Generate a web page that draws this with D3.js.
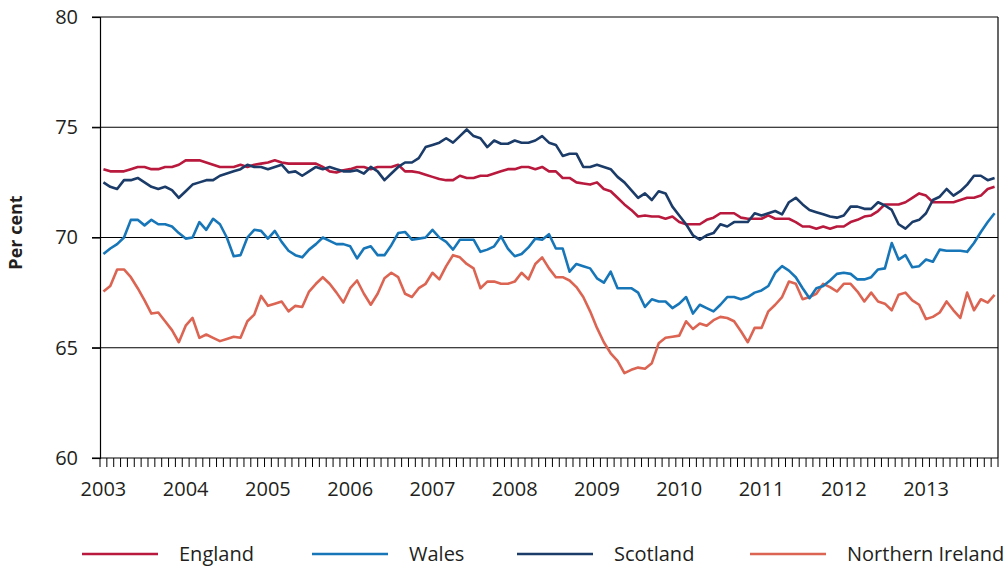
<!DOCTYPE html>
<html>
<head>
<meta charset="utf-8">
<script src="https://cdn.jsdelivr.net/npm/d3@7"></script>
<style>
  body { margin: 0; background: #fff; }
  svg text { font-family: "Open Sans", "DejaVu Sans", sans-serif; fill: #231f20; }
</style>
</head>
<body>
<div id="chart-area"></div>
<script>
// monthly, Jan 2003 .. Nov 2013
var yearLabels = ["2003","2004","2005","2006","2007","2008","2009","2010","2011","2012","2013"];
var yTicks = [60, 65, 70, 75, 80];

var england = [
  73.1, 73.0, 73.0, 73.0, 73.1, 73.2, 73.2, 73.1, 73.1, 73.2, 73.2, 73.3,
  73.5, 73.5, 73.5, 73.4, 73.3, 73.2, 73.2, 73.2, 73.3, 73.2, 73.3, 73.35,
  73.4, 73.5, 73.4, 73.35, 73.35, 73.35, 73.35, 73.35, 73.2, 73.0, 72.95, 73.05,
  73.1, 73.2, 73.2, 73.1, 73.2, 73.2, 73.2, 73.3, 73.0, 73.0, 72.95, 72.85,
  72.75, 72.65, 72.6, 72.6, 72.8, 72.7, 72.7, 72.8, 72.8, 72.9, 73.0, 73.1,
  73.1, 73.2, 73.2, 73.1, 73.2, 73.0, 73.0, 72.7, 72.7, 72.5, 72.45, 72.4,
  72.5, 72.2, 72.1, 71.8, 71.5, 71.25, 70.95, 71.0, 70.95, 70.95, 70.85, 70.95,
  70.7, 70.6, 70.6, 70.6, 70.8, 70.9, 71.1, 71.1, 71.1, 70.9, 70.85, 70.85,
  70.85, 71.0, 70.85, 70.85, 70.85, 70.7, 70.5, 70.5, 70.4, 70.5, 70.4, 70.5,
  70.5, 70.7, 70.8, 70.95, 71.0, 71.2, 71.5, 71.5, 71.5, 71.6, 71.8, 72.0,
  71.9, 71.6, 71.6, 71.6, 71.6, 71.7, 71.8, 71.8, 71.9, 72.2, 72.3
];
var wales = [
  69.25, 69.5, 69.7, 70.0, 70.8, 70.8, 70.55, 70.8, 70.6, 70.6, 70.5, 70.2,
  69.95, 70.0, 70.7, 70.35, 70.85, 70.6, 70.0, 69.15, 69.2, 70.0, 70.35, 70.3,
  69.95, 70.3, 69.8, 69.4, 69.2, 69.1, 69.45, 69.7, 70.0, 69.85, 69.7, 69.7,
  69.6, 69.05, 69.5, 69.6, 69.2, 69.2, 69.65, 70.2, 70.25, 69.9, 69.95, 70.0,
  70.35, 70.0, 69.8, 69.45, 69.9, 69.9, 69.9, 69.35, 69.45, 69.6, 70.05, 69.5,
  69.15, 69.25, 69.55, 69.95, 69.9, 70.15, 69.5, 69.5, 68.45, 68.8, 68.7, 68.6,
  68.15, 67.95, 68.45, 67.7, 67.7, 67.7, 67.5, 66.85, 67.2, 67.1, 67.1, 66.8,
  67.0, 67.3, 66.55, 66.95, 66.8, 66.65, 66.95, 67.3, 67.3, 67.2, 67.3, 67.5,
  67.6, 67.8, 68.4, 68.7, 68.5, 68.2, 67.7, 67.25, 67.7, 67.8, 68.05, 68.35,
  68.4, 68.35, 68.1, 68.1, 68.2, 68.55, 68.6, 69.75, 69.0, 69.2, 68.65, 68.7,
  69.0, 68.9, 69.45, 69.4, 69.4, 69.4, 69.35, 69.75, 70.25, 70.7, 71.1
];
var scotland = [
  72.5, 72.3, 72.2, 72.6, 72.6, 72.7, 72.5, 72.3, 72.2, 72.3, 72.15, 71.8,
  72.1, 72.4, 72.5, 72.6, 72.6, 72.8, 72.9, 73.0, 73.1, 73.3, 73.2, 73.2,
  73.1, 73.2, 73.3, 72.95, 73.0, 72.8, 73.0, 73.2, 73.1, 73.2, 73.1, 73.0,
  73.0, 73.05, 72.9, 73.2, 73.0, 72.6, 72.9, 73.2, 73.4, 73.4, 73.6, 74.1,
  74.2, 74.3, 74.5, 74.3, 74.6, 74.9, 74.6, 74.5, 74.1, 74.4, 74.25, 74.25,
  74.4, 74.3, 74.3, 74.4, 74.6, 74.3, 74.2, 73.7, 73.8, 73.8, 73.2, 73.2,
  73.3, 73.2, 73.1, 72.75, 72.5, 72.15, 71.8, 72.0, 71.7, 72.1, 72.0, 71.4,
  71.0, 70.6, 70.1, 69.9, 70.1, 70.2, 70.6, 70.5, 70.7, 70.7, 70.7, 71.1,
  71.0, 71.1, 71.2, 71.05, 71.6, 71.8, 71.5, 71.25, 71.15, 71.05, 70.95, 70.9,
  71.0, 71.4, 71.4, 71.3, 71.3, 71.6, 71.45, 71.25, 70.6, 70.4, 70.7, 70.8,
  71.1, 71.7, 71.85, 72.2, 71.9, 72.1, 72.4, 72.8, 72.8, 72.6, 72.7
];
var northernIreland = [
  67.55, 67.8, 68.55, 68.55, 68.2, 67.7, 67.15, 66.55, 66.6, 66.2, 65.8, 65.25,
  66.0, 66.35, 65.45, 65.6, 65.45, 65.3, 65.4, 65.5, 65.45, 66.2, 66.5, 67.35,
  66.9, 67.0, 67.1, 66.65, 66.9, 66.85, 67.55, 67.9, 68.2, 67.9, 67.5, 67.05,
  67.7, 68.05, 67.45, 66.95, 67.45, 68.15, 68.4, 68.2, 67.45, 67.3, 67.7, 67.9,
  68.4, 68.1, 68.7, 69.2, 69.1, 68.8, 68.6, 67.7, 68.0, 68.0, 67.9, 67.9,
  68.0, 68.4, 68.1, 68.8, 69.1, 68.6, 68.2, 68.2, 68.05, 67.75, 67.3, 66.65,
  65.9, 65.25, 64.75, 64.4, 63.85, 64.0, 64.1, 64.05, 64.3, 65.2, 65.45, 65.5,
  65.55, 66.2, 65.85, 66.1, 66.0, 66.25, 66.4, 66.35, 66.2, 65.75, 65.25, 65.9,
  65.9, 66.65, 66.95, 67.3, 68.0, 67.9, 67.2, 67.3, 67.45, 67.9, 67.75, 67.55,
  67.9, 67.9, 67.55, 67.1, 67.5, 67.1, 67.0, 66.7, 67.4, 67.5, 67.15, 66.95,
  66.3, 66.4, 66.6, 67.1, 66.7, 66.35, 67.5, 66.7, 67.2, 67.05, 67.4
];

var seriesNames = ["England", "Wales", "Scotland", "Northern Ireland"];
var seriesColors = ["#b8193d", "#1776b8", "#1b3b68", "#dc6452"];

var margin = { left: 100, right: 10, top: 17, bottom: 111 };
var width = 1008 - margin.left - margin.right;
var height = 569 - margin.top - margin.bottom;

var svg = d3.select("#chart-area")
  .append("svg")
    .attr("width", 1008)
    .attr("height", 569);

var g = svg.append("g")
  .attr("transform", "translate(" + margin.left + "," + margin.top + ")");

var months = d3.range(england.length);

var x = d3.scaleBand()
  .domain(months)
  .range([0, width])
  .padding(0);

var y = d3.scaleLinear()
  .domain([60, 80])
  .range([height, 0]);

// gridlines
g.selectAll(".grid")
  .data(yTicks.slice(1))
  .enter().append("line")
    .attr("x1", -8)
    .attr("x2", width)
    .attr("y1", function(d){ return y(d); })
    .attr("y2", function(d){ return y(d); })
    .attr("stroke", "#000")
    .attr("stroke-width", 1.2);

// y axis
var yAxisCall = d3.axisLeft(y).tickValues(yTicks).tickSize(8).tickPadding(14);
var yAxisGroup = g.append("g").call(yAxisCall);
yAxisGroup.select(".domain").attr("stroke", "#000").attr("stroke-width", 1.2);
yAxisGroup.selectAll(".tick line").attr("stroke", "#000").attr("stroke-width", 1.2);
yAxisGroup.selectAll("text")
  .attr("font-size", "20px")
  .style("font-family", "'Open Sans', sans-serif")
  .attr("fill", "#231f20");

// right border
g.append("line")
  .attr("x1", width).attr("x2", width)
  .attr("y1", 0).attr("y2", height)
  .attr("stroke", "#000")
  .attr("stroke-width", 1.2);

// x axis: ticks between months
var xAxisGroup = g.append("g")
  .attr("transform", "translate(0," + height + ")");
xAxisGroup.append("line")
  .attr("x1", -8).attr("x2", width)
  .attr("stroke", "#000").attr("stroke-width", 1.2);
xAxisGroup.selectAll(".mtick")
  .data(months.concat([months.length]))
  .enter().append("line")
    .attr("x1", function(d){ return d < months.length ? x(d) : width; })
    .attr("x2", function(d){ return d < months.length ? x(d) : width; })
    .attr("y1", 0)
    .attr("y2", 9)
    .attr("stroke", "#000")
    .attr("stroke-width", 1);
xAxisGroup.selectAll(".ylabel")
  .data(yearLabels)
  .enter().append("text")
    .attr("x", function(d, i){ return x(i * 12) + x.bandwidth() / 2; })
    .attr("y", 38)
    .attr("text-anchor", "middle")
    .attr("font-size", "20px")
    .text(function(d){ return d; });

// Y label
g.append("text")
  .attr("transform", "rotate(-90)")
  .attr("x", -(height / 2) + 5)
  .attr("y", -78)
  .attr("text-anchor", "middle")
  .attr("font-size", "18px")
  .attr("font-weight", "bold")
  .text("Per cent");

// lines
var line = d3.line()
  .x(function(d, i){ return x(i) + x.bandwidth() / 2; })
  .y(function(d){ return y(d); });

var allSeries = [england, wales, scotland, northernIreland];
// draw order so Scotland sits over England like the reference
[3, 1, 0, 2].forEach(function(k){
  g.append("path")
    .datum(allSeries[k])
    .attr("fill", "none")
    .attr("stroke", seriesColors[k])
    .attr("stroke-width", 2.6)
    .attr("stroke-linejoin", "round")
    .attr("d", line);
});

// legend
var legendX = [82, 312, 517, 750];
var legend = svg.append("g");
seriesNames.forEach(function(name, k){
  legend.append("line")
    .attr("x1", legendX[k]).attr("x2", legendX[k] + 76)
    .attr("y1", 554).attr("y2", 554)
    .attr("stroke", seriesColors[k])
    .attr("stroke-width", 2.6);
  legend.append("text")
    .attr("x", legendX[k] + 97)
    .attr("y", 561)
    .attr("font-size", "20px")
    .text(name);
});
</script>
</body>
</html>
